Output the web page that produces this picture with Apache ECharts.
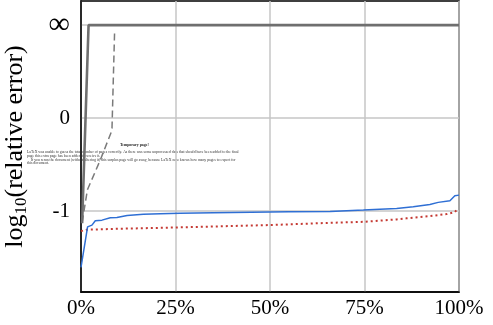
<!DOCTYPE html>
<html>
<head>
<meta charset="utf-8">
<script src="https://cdn.jsdelivr.net/npm/echarts@6/dist/echarts.min.js"></script>
<style>
  html, body { margin: 0; padding: 0; background: #fff; }
  #chart { width: 493px; height: 325px; }
</style>
</head>
<body>
<div id="chart"></div>
<script>
// x = share of problems (%), y = log10(relative error); y = 1 stands for infinity
const xTicks = [0, 25, 50, 75, 100]
const yTicks = [-1, 0, 1]

const graySolid = [[0.3, -1.13], [2.0, 1], [100, 1]]
const grayDashed = [
  [0.3, -1.12], [1.7, -0.77], [5.1, -0.45], [8.0, -0.15], [8.2, -0.11], [8.9, 0.95]
]
const blueLine = [
  [0, -1.605], [1.74, -1.169], [2.9, -1.151], [3.78, -1.104], [5.55, -1.097],
  [7.75, -1.072], [9.5, -1.068], [12.2, -1.046], [16.5, -1.035], [21, -1.029],
  [26.2, -1.022], [35, -1.018], [45, -1.013], [55, -1.008], [65.9, -1.003],
  [74.7, -0.989], [83.5, -0.971], [87.9, -0.954], [92.3, -0.928], [94.5, -0.906],
  [97.6, -0.889], [98.9, -0.835], [100, -0.828]
]
const redDotted = [
  [0, -1.215], [1.5, -1.2], [10, -1.19], [26.2, -1.175], [40, -1.16], [50, -1.15],
  [60, -1.135], [65.9, -1.126], [74.7, -1.115], [83.5, -1.089], [86.1, -1.078],
  [92.3, -1.054], [96.7, -1.032], [98.9, -1.011], [99.8, -0.968]
]

// leftover LaTeX "Temporary page!" text printed over the figure
const tempTitle = 'Temporary page!'
const tempLines = [
  'LaTeX was unable to guess the total number of pages correctly. As there was some unprocessed data that should have been added to the final',
  'page this extra page has been added to receive it.',
  '    If you rerun the document (without altering it) this surplus page will go away, because LaTeX now knows how many pages to expect for',
  'this document.'
]

const serif = '"Liberation Serif", "DejaVu Serif", serif'
const chart = echarts.init(document.getElementById('chart'))

const lineSeries = (data, color, width, type) => ({
  type: 'line',
  data,
  symbol: 'none',
  silent: true,
  lineStyle: { color, width, type }
})

const option = {
  animation: false,
  grid: {
    left: 81, top: 1, right: 34, bottom: 33,
    containLabel: false, outerBoundsMode: 'none',
    show: true, borderColor: '#000', borderWidth: 1.5
  },
  xAxis: {
    type: 'value',
    min: 0, max: 100, interval: 25,
    axisLine: { show: true, onZero: false, lineStyle: { color: '#000', width: 1.5 } },
    axisTick: { show: false },
    splitLine: { show: true, lineStyle: { color: '#c6c6c6', width: 1.5 } },
    axisLabel: {
      color: '#000', fontFamily: serif, fontSize: 21, margin: 6,
      formatter: v => xTicks.includes(v) ? v + '%' : ''
    }
  },
  yAxis: {
    type: 'value',
    min: -1.87, max: 1.26,
    name: '{m|log}{sub|10}{m|(relative error)}',
    nameLocation: 'center',
    nameRotate: 90,
    nameGap: 51,
    nameTextStyle: {
      color: '#000', fontFamily: serif, fontSize: 26,
      rich: {
        m: { fontFamily: serif, fontSize: 26, color: '#000' },
        sub: { fontFamily: serif, fontSize: 17, color: '#000', verticalAlign: 'bottom', padding: [12, 0, 0, 0] }
      }
    },
    axisLine: { show: true, lineStyle: { color: '#000', width: 1.5 } },
    axisTick: { show: false, customValues: yTicks },
    splitLine: { show: true, lineStyle: { color: '#c6c6c6', width: 1.5 } },
    axisLabel: {
      customValues: yTicks,
      color: '#000', fontFamily: serif, fontSize: 21, margin: 11,
      formatter: v => v === 1 ? '{inf|∞}' : String(v),
      rich: { inf: { fontFamily: serif, fontSize: 30, color: '#000' } }
    }
  },
  graphic: [
    {
      type: 'text', left: 120, top: 143,
      style: { text: tempTitle, font: 'bold 3.9px ' + serif, fill: '#222' }
    },
    ...tempLines.map((t, i) => ({
      type: 'text', left: 27, top: 150 + i * 3.8,
      style: { text: t, font: '3.75px ' + serif, fill: '#333' }
    }))
  ],
  series: [
    lineSeries(redDotted, '#c53a33', 2, [2, 3]),
    lineSeries(blueLine, '#2f6fd4', 1.5, 'solid'),
    lineSeries(grayDashed, '#7a7a7a', 1.5, [7, 4]),
    lineSeries(graySolid, '#6f6f6f', 2.6, 'solid')
  ]
}

chart.setOption(option)
</script>
</body>
</html>
